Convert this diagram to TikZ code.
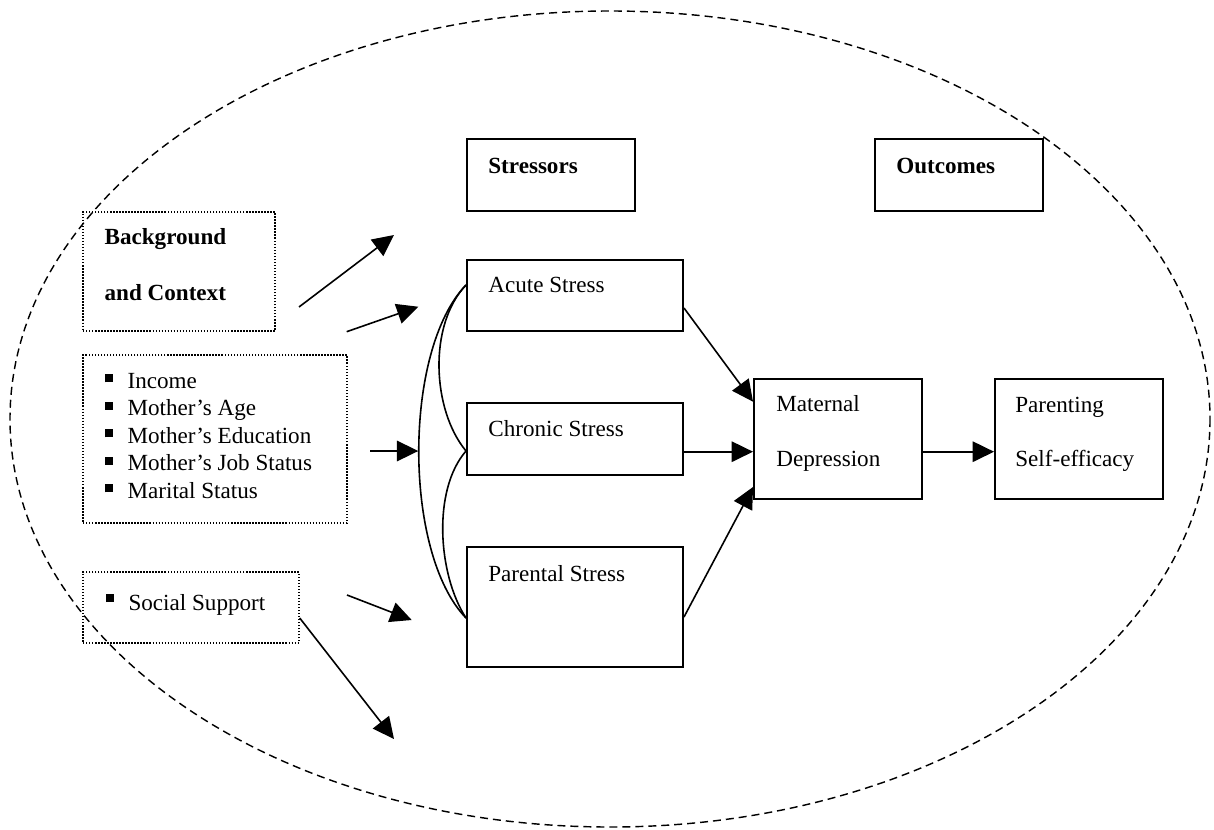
\documentclass[tikz,border=0pt]{standalone}
\usepackage{fontspec}
\setmainfont{Liberation Serif}
\usetikzlibrary{arrows.meta, calc}
\newcommand{\sqbul}[1][3.4pt]{\rule[#1]{4.5pt}{4.5pt}\hspace{8pt}}

\begin{document}
\begin{tikzpicture}[x=0.5625pt, y=-0.5625pt,
  box/.style 2 args={draw=black, line width=1.1pt, minimum width=#1*0.5625pt, minimum height=#2*0.5625pt, inner sep=0pt},
  dotbox/.style 2 args={draw=black, line width=0.8pt, dash pattern=on 0.8pt off 0.9pt, minimum width=#1*0.5625pt, minimum height=#2*0.5625pt, inner sep=0pt},
  txt/.style={font=\fontsize{13}{15.5}\selectfont, anchor=base west, inner sep=0pt},
  head/.style={txt, font=\fontsize{13}{15.5}\selectfont\bfseries},
  arr/.style={-{Triangle[length=12pt, width=11.5pt]}, line width=0.9pt},
  link/.style={line width=0.9pt}]
\useasboundingbox (0,0) rectangle (1214,829);

\draw[line width=0.8pt, dash pattern=on 4.5pt off 2.8pt] (610,419) ellipse [x radius=600, y radius=408];

\node[box={168}{72}] (stressors) at (551,175) {};
\node[head] (stressorslbl) at (488,173.3) {Stressors};
\node[box={168}{72}] (outcomes) at (959,175) {};
\node[head] (outcomeslbl) at (896,173.3) {Outcomes};

\node[box={216}{71}] (acute) at (575,295.5) {};
\node[txt] (acutelbl) at (488,292.3) {Acute Stress};
\node[box={216}{72}] (chronic) at (575,439) {};
\node[txt] (chroniclbl) at (488,436) {Chronic Stress};
\node[box={216}{120}] (parental) at (575,607) {};
\node[txt] (parentallbl) at (488,581) {Parental Stress};

\node[box={168}{120}] (maternal) at (838,439) {};
\node[txt] (maternallbl) at (776,411) {Maternal};
\node[txt] (depressionlbl) at (776,466) {Depression};
\node[box={168}{120}] (parenting) at (1079,439) {};
\node[txt] (parentinglbl) at (1015,412.5) {Parenting};
\node[txt] (efficacylbl) at (1015,466) {Self-efficacy};

\node[dotbox={192}{119}] (background) at (179,271.5) {};
\node[head] (backgroundlbl) at (104.3,244) {Background};
\node[head] (contextlbl) at (104.3,300) {and Context};
\node[dotbox={264}{168}] (factors) at (215,439) {};
\foreach \fac [count=\k from 0] in {Income, Mother’s Age, Mother’s Education, Mother’s Job Status, Marital Status}
  \node[txt] (fac\k) at (105,388.3+27.5*\k) {\sqbul\fac};
\node[dotbox={216}{71}] (support) at (191,607.5) {};
\node[txt] (supportlbl) at (106,610) {\sqbul[4.4pt]Social Support};

\coordinate (bg1) at (299,307);
\coordinate (bg1end) at (394,235);
\coordinate (bg2) at (346.7,331.7);
\coordinate (bg2end) at (418.3,306.7);
\coordinate (fac) at (370,451);
\coordinate (facend) at (418.3,451);
\coordinate (sup1) at (347,595);
\coordinate (sup1end) at (411.7,620);
\coordinate (sup2end) at (394,739);

\draw[arr] (bg1) -- (bg1end);
\draw[arr] (bg2) -- (bg2end);
\draw[arr] (fac) -- (facend);
\draw[arr] (sup1) -- (sup1end);
\draw[arr] ($(support.east)+(0,10.5)$) -- (sup2end);

\draw[link] ($(acute.west)+(0,-10.5)$) .. controls (403,350) and (403,553) .. ($(parental.west)+(0,11)$);
\draw[link] ($(acute.west)+(0,-10.5)$) .. controls (428,325) and (432,410) .. ($(chronic.west)+(0,12)$);
\draw[link] ($(chronic.west)+(0,12)$) .. controls (432,490) and (438,575) .. ($(parental.west)+(0,11)$);

\draw[arr] ($(acute.east)+(0,12.5)$) -- ($(maternal.west)+(0,-37.3)$);
\draw[arr] ($(chronic.east)+(0,12.7)$) -- ($(maternal.west)+(0,12.7)$);
\draw[arr] ($(parental.east)+(0,10)$) -- ($(maternal.west)+(0,48)$);
\draw[arr] ($(maternal.east)+(0,12.7)$) -- ($(parenting.west)+(0,12.7)$);

\end{tikzpicture}
\end{document}
